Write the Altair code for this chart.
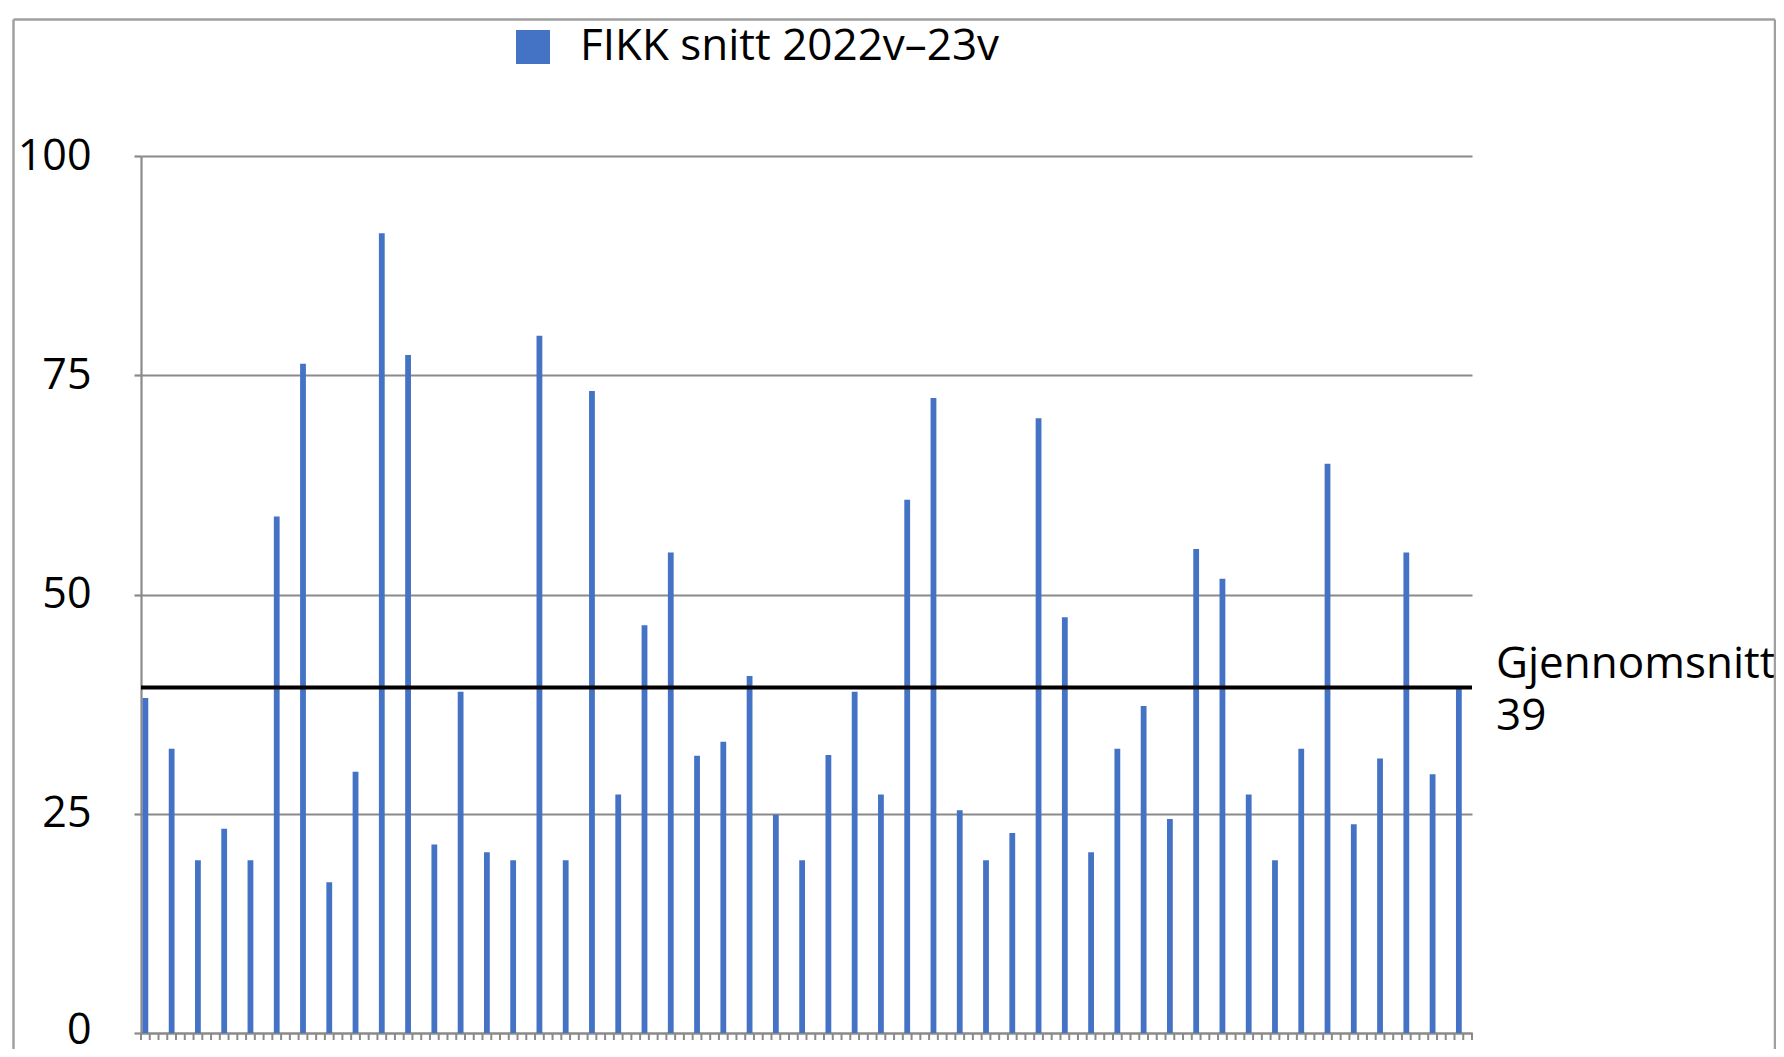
import altair as alt
import pandas as pd

# ---- data ----
values = [38.2, 32.4, 19.7, 23.3, 19.7, 58.9, 76.3, 17.2, 29.8, 91.2,
          77.3, 21.5, 38.9, 20.6, 19.7, 79.5, 19.7, 73.2, 27.2, 46.5,
          54.8, 31.6, 33.2, 40.7, 24.9, 19.7, 31.7, 38.9, 27.2, 60.8,
          72.4, 25.4, 19.7, 22.8, 70.1, 47.4, 20.6, 32.4, 37.3, 24.4,
          55.2, 51.8, 27.2, 19.7, 32.4, 64.9, 23.8, 31.3, 54.8, 29.5, 39.5]
series_name = "FIKK snitt 2022v\u201323v"
average = 39.4
average_label = ["Gjennomsnitt", "39"]
y_ticks = [0, 25, 50, 75, 100]
n_slots = 152          # category slots on the x axis (a bar every third slot)
slot_step = 3

FONT = "Open Sans"
GRAY = "#8a8a8a"
BLUE = "#4472C4"

W, H = 1331, 877
PAD = {"left": 133, "top": 148, "right": 304, "bottom": 16}

df = pd.DataFrame({
    "slot": [slot_step * i + 0.5 for i in range(len(values))],
    "value": values,
    "series": [series_name] * len(values),
})
ticks_df = pd.DataFrame({"t": list(range(n_slots + 1))})
avg_df = pd.DataFrame({"avg": [average], "label": [average_label]})
one = pd.DataFrame({"a": [0]})

xscale = alt.Scale(domain=[0, n_slots], nice=False, zero=False, padding=0)

bars = alt.Chart(df).mark_bar(size=5.8, color=BLUE).encode(
    x=alt.X("slot:Q", scale=xscale,
            axis=alt.Axis(labels=False, ticks=False,
                          domain=True, domainColor=GRAY, domainWidth=2.2,
                          grid=False, title=None)),
    y=alt.Y("value:Q",
            scale=alt.Scale(domain=[0, 100], nice=False),
            axis=alt.Axis(values=y_ticks, grid=True, gridColor=GRAY, gridWidth=2.2,
                          ticks=True, tickSize=7, tickWidth=2.2, tickColor=GRAY,
                          domain=True, domainColor=GRAY, domainWidth=2.2,
                          labelFont=FONT, labelFontSize=43, labelColor="black",
                          labelPadding=43, title=None,
                          labelOffset=alt.condition("datum.value == 0",
                                                    alt.value(-3), alt.value(0)))),
    color=alt.Color("series:N",
                    scale=alt.Scale(range=[BLUE]),
                    legend=alt.Legend(orient="none", legendX=370, legendY=-131,
                                      title=None, symbolType="square",
                                      symbolSize=1156, symbolStrokeWidth=0,
                                      symbolOpacity=1, padding=0,
                                      labelFont=FONT, labelFontSize=44,
                                      labelColor="black", labelOffset=25,
                                      labelLimit=2000)),
)

# category tick marks below the x axis, one per slot boundary
x_ticks = alt.Chart(ticks_df).mark_rule(color=GRAY, strokeWidth=2).encode(
    x=alt.X("t:Q", scale=xscale),
    y=alt.value(H),
    y2=alt.value(H + 7),
)

avg_rule = alt.Chart(avg_df).mark_rule(color="black", strokeWidth=4).encode(
    y="avg:Q"
)

avg_text = alt.Chart(avg_df).mark_text(
    align="left", baseline="alphabetic", dx=24, dy=-9,
    font=FONT, fontSize=44, color="black", lineHeight=52
).encode(
    x=alt.datum(n_slots),
    y="avg:Q",
    text="label",
)

# outer frame (top, left, right; bottom is cut off in the reference)
frame_top = alt.Chart(one).mark_rule(color="#a0a0a0", strokeWidth=2.5).encode(
    x=alt.value(-127.5), x2=alt.value(1634), y=alt.value(-136.5))
frame_left = alt.Chart(one).mark_rule(color="#a0a0a0", strokeWidth=2.5).encode(
    x=alt.value(-127.5), y=alt.value(-136.5), y2=alt.value(H + PAD["bottom"]))
frame_right = alt.Chart(one).mark_rule(color="#a0a0a0", strokeWidth=2.5).encode(
    x=alt.value(1634), y=alt.value(-136.5), y2=alt.value(H + PAD["bottom"]))

chart = alt.layer(
    bars, x_ticks, avg_rule, avg_text, frame_top, frame_left, frame_right
).properties(
    width=W, height=H,
    autosize=alt.AutoSizeParams(type="none"),
    padding=PAD,
    background="white",
).configure_view(strokeWidth=0)

chart.save("out.html", embed_options={"renderer": "svg", "actions": False})
